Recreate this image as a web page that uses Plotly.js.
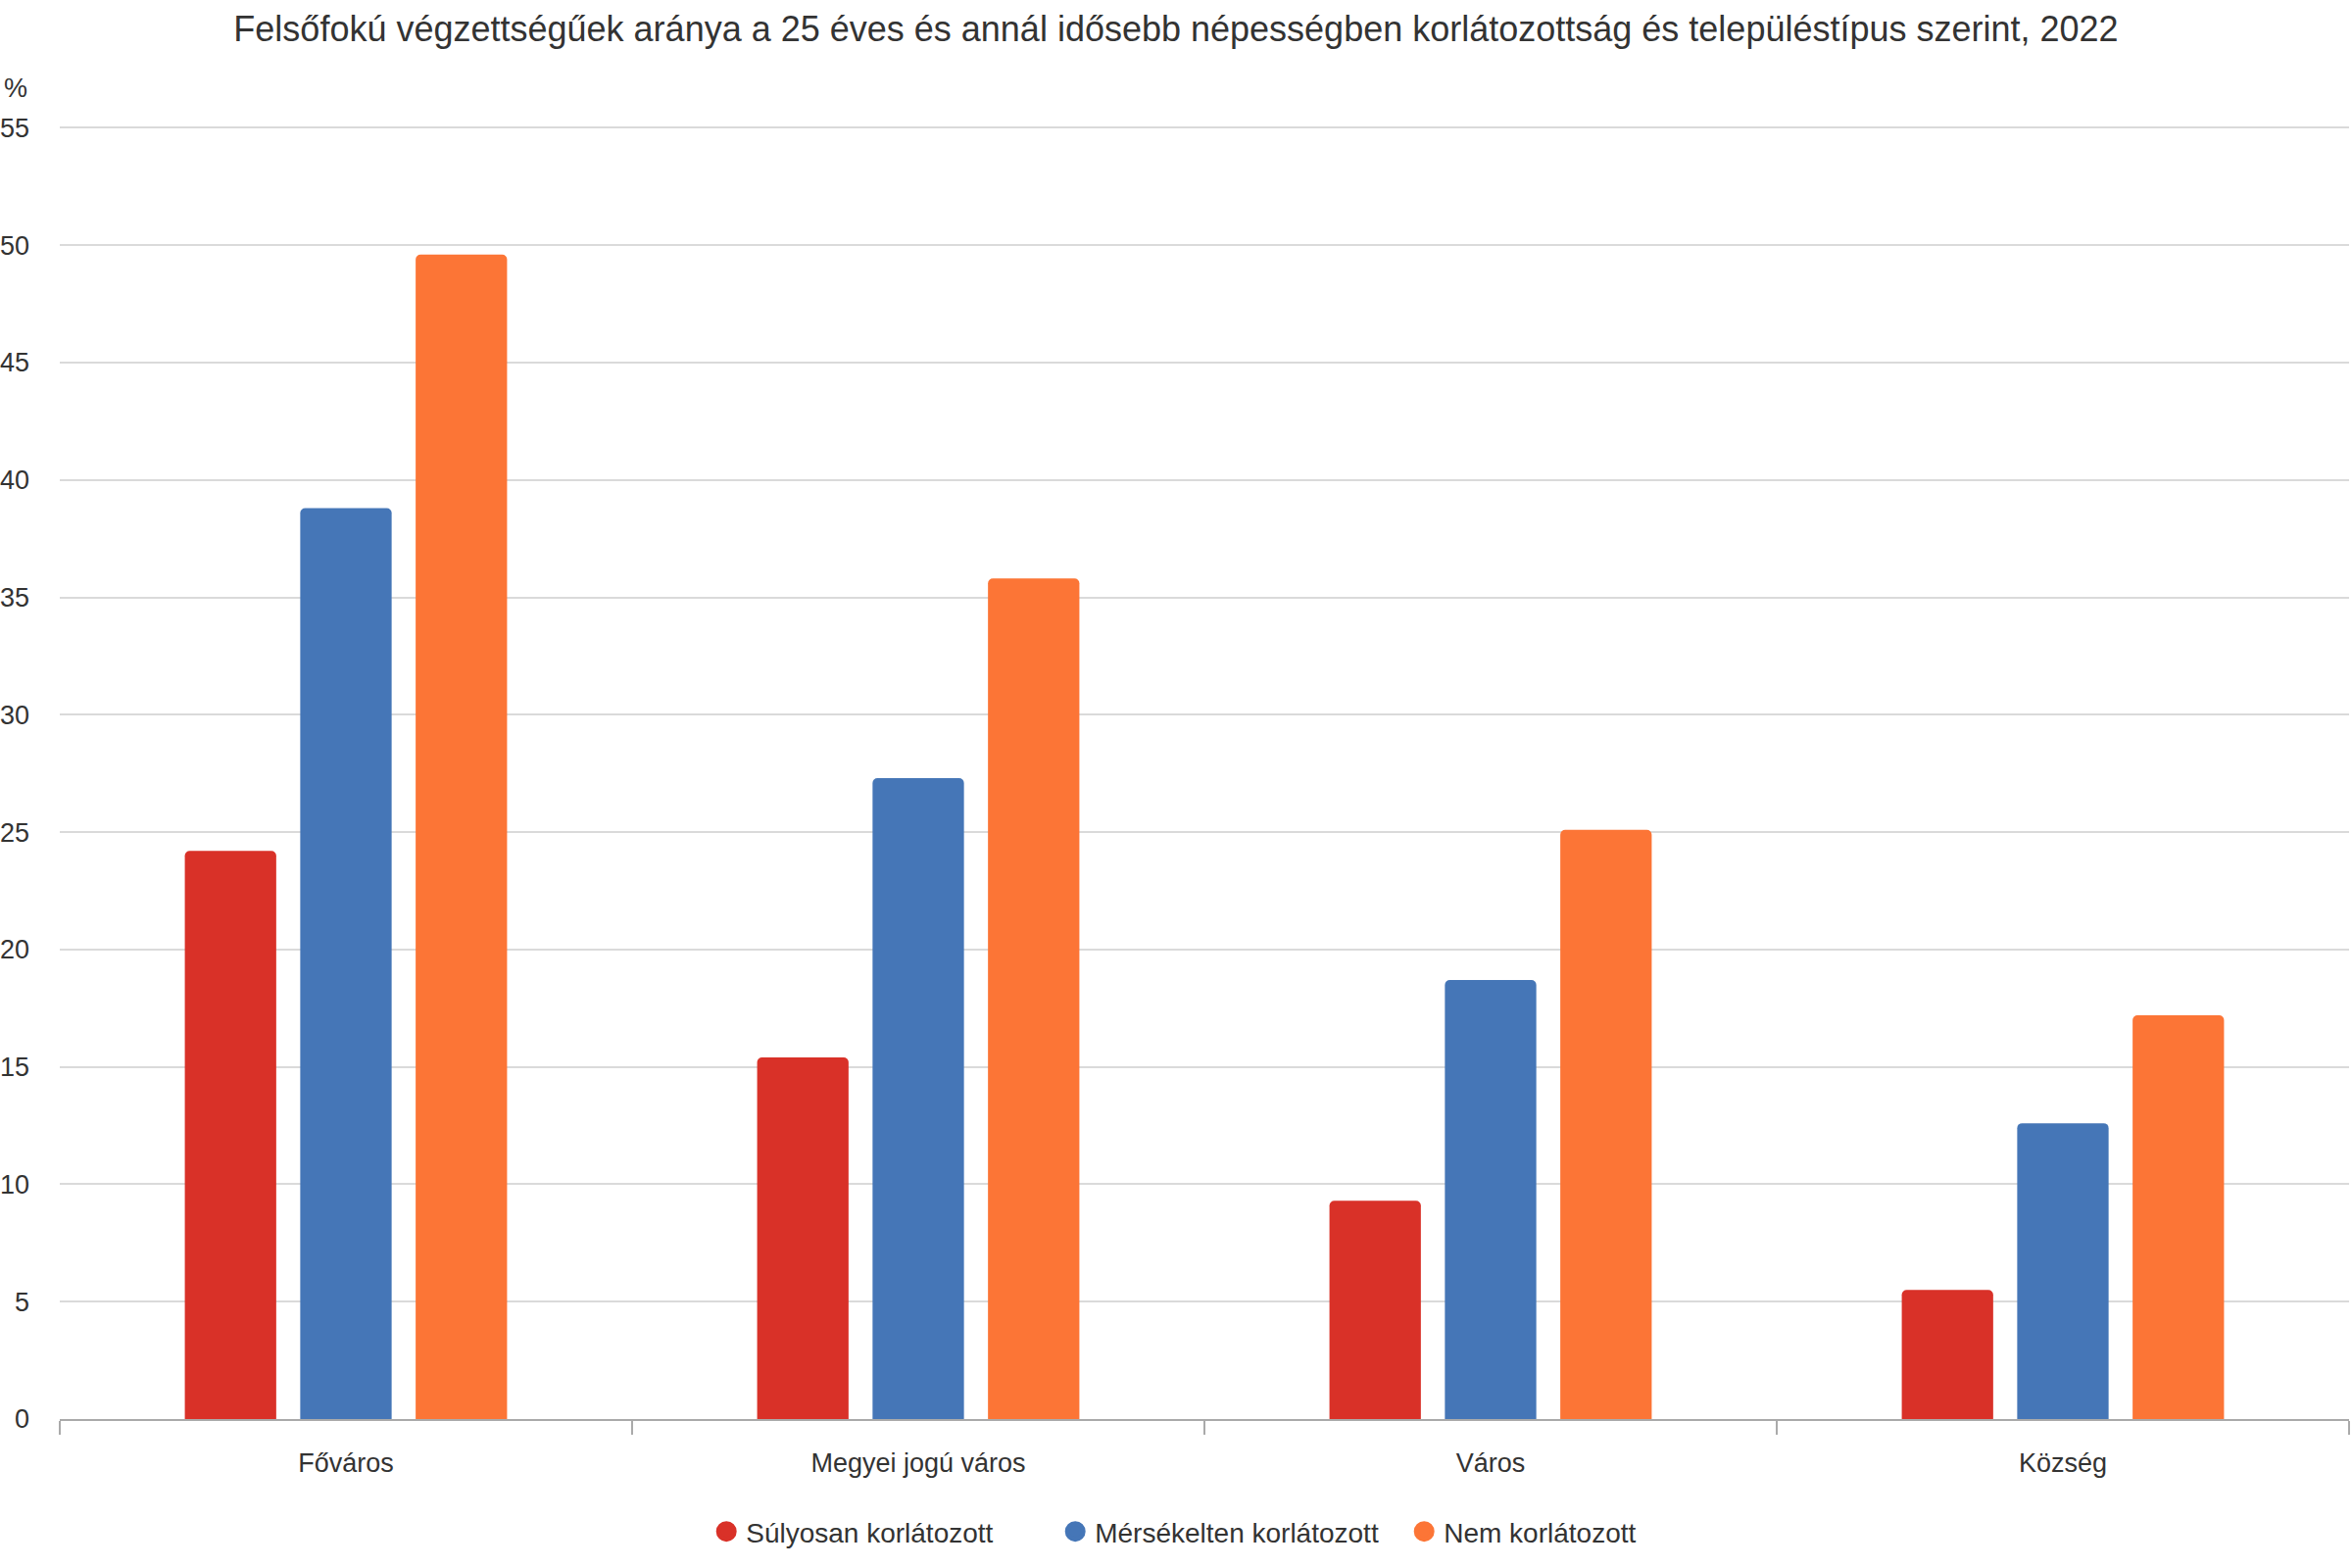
<!DOCTYPE html>
<html>
<head>
<meta charset="utf-8">
<script src="https://cdn.plot.ly/plotly-3.0.1.min.js"></script>
<style>html,body{margin:0;padding:0;background:#fff}#chart{width:2400px;height:1600px}</style>
</head>
<body>
<div id="chart"></div>
<script>
const chartTitle = "Felsőfokú végzettségűek aránya a 25 éves és annál idősebb népességben korlátozottság és településtípus szerint, 2022";
const categories = ["Főváros", "Megyei jogú város", "Város", "Község"];
const seriesNames = ["Súlyosan korlátozott", "Mérsékelten korlátozott", "Nem korlátozott"];
const sulyosan = [24.2, 15.4, 9.3, 5.5];
const merseklten = [38.8, 27.3, 18.7, 12.6];
const nemKorlatozott = [49.6, 35.8, 25.1, 17.2];
const yTicks = [0, 5, 10, 15, 20, 25, 30, 35, 40, 45, 50, 55];
const unitLabel = "%";

const colors = ["#D93128", "#4576B7", "#FC7536"];
const seriesValues = [sulyosan, merseklten, nemKorlatozott];
const font = "Liberation Sans, Arial, sans-serif";

const traces = [];
seriesValues.forEach((vals, i) => {
  traces.push({
    type: "bar", x: categories, y: vals, name: seriesNames[i],
    marker: {color: colors[i], cornerradius: 5},
    showlegend: false, hoverinfo: "skip"
  });
});
seriesValues.forEach((vals, i) => {
  traces.push({
    type: "scatter", mode: "markers", x: [null], y: [null], name: seriesNames[i],
    marker: {color: colors[i], size: 16, symbol: "circle", line: {color: colors[i], width: 5}},
    showlegend: true, hoverinfo: "skip"
  });
});

const layout = {
  width: 2400, height: 1600,
  paper_bgcolor: "#ffffff", plot_bgcolor: "#ffffff",
  font: {family: font, size: 27, color: "#333333"},
  margin: {l: 61, r: 3, t: 128, b: 152},
  barmode: "group", bargap: 0.395, bargroupgap: 0.208,
  title: {text: chartTitle, font: {family: font, size: 36, color: "#333333"},
          x: 0.5, xref: "container", xanchor: "center", y: 1 - 29/1600, yref: "container", yanchor: "middle"},
  xaxis: {
    type: "category", range: [-0.5, 3.5], showgrid: false,
    showline: true, linecolor: "#aaaaaa", linewidth: 2,
    ticks: "outside", tickson: "boundaries", ticklen: 14, tickwidth: 2, tickcolor: "#aaaaaa",
    tickfont: {family: font, size: 27, color: "#333333"}, ticklabelstandoff: 20,
    fixedrange: true
  },
  yaxis: {
    range: [0, 55.1], tickvals: yTicks, ticktext: yTicks.map(String),
    showgrid: true, gridcolor: "#dadada", gridwidth: 2, zeroline: false, showline: false,
    ticks: "", tickfont: {family: font, size: 27, color: "#333333"}, ticklabelstandoff: 30,
    fixedrange: true
  },
  legend: {
    orientation: "h", x: 0.523, xanchor: "center", xref: "container",
    y: 1 - 1563/1600, yref: "container", yanchor: "middle",
    entrywidth: 311, entrywidthmode: "pixels",
    font: {family: font, size: 28, color: "#333333"}, itemclick: false, itemdoubleclick: false
  },
  annotations: [{
    text: unitLabel, xref: "paper", yref: "paper", x: 0, y: (1448 - 90) / 1320,
    xanchor: "left", yanchor: "middle", showarrow: false, xshift: -59,
    font: {family: font, size: 27, color: "#333333"}
  }],
  hovermode: false
};

Plotly.newPlot("chart", traces, layout, {displayModeBar: false, staticPlot: true});
</script>
</body>
</html>
